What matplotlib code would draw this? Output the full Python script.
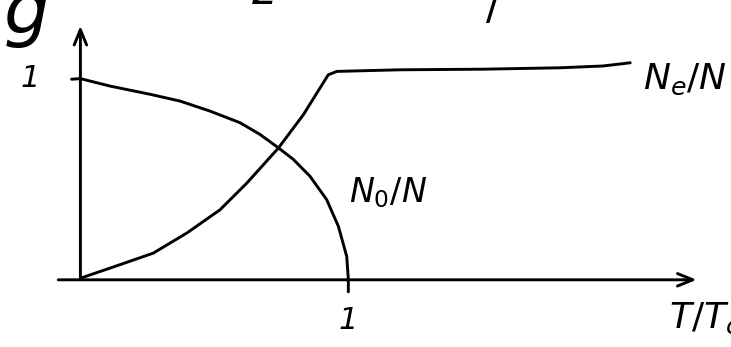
import matplotlib
matplotlib.use("Agg")
import matplotlib.pyplot as plt

# condensate fraction N0/N vs T/Tc (sketch points)
t_n0 = [-0.033, 0.0, 0.11, 0.26, 0.372, 0.484, 0.596, 0.67, 0.739, 0.795, 0.857,
        0.919, 0.963, 0.994, 1.0, 1.0]
n0 = [1.0, 1.003, 0.966, 0.925, 0.891, 0.841, 0.783, 0.725, 0.658, 0.60, 0.516,
      0.40, 0.266, 0.116, 0.0, -0.06]

# excited fraction Ne/N vs T/Tc (sketch points)
t_ne = [0.0, 0.11, 0.272, 0.397, 0.521, 0.621, 0.739, 0.832, 0.925, 0.957,
        1.193, 1.50, 1.79, 1.95, 2.052]
ne = [0.008, 0.058, 0.133, 0.233, 0.349, 0.482, 0.657, 0.823, 1.022, 1.039,
      1.047, 1.05, 1.057, 1.066, 1.082]

fig = plt.figure(figsize=(7.31, 3.47), dpi=100)
ax = fig.add_axes([0, 0, 1, 1])
ax.set_xlim(-0.30, 2.428)
ax.set_ylim(-0.335, 1.395)
ax.axis("off")

lw = 2.1
arrow = dict(arrowstyle="->,head_length=1.1,head_width=0.45", lw=lw, color="black")
# axes drawn as open arrows
ax.annotate("", xy=(2.31, 0.0), xytext=(-0.093, 0.0), arrowprops=arrow)
ax.annotate("", xy=(0.0, 1.28), xytext=(0.0, 0.0), arrowprops=arrow)

ax.plot(t_n0, n0, color="black", lw=lw, solid_capstyle="round", solid_joinstyle="round")
ax.plot(t_ne, ne, color="black", lw=lw, solid_capstyle="round", solid_joinstyle="round")

ax.text(-0.187, 1.005, "1", fontsize=22, ha="center", va="center", style="italic")
ax.text(1.0, -0.205, "1", fontsize=22, ha="center", va="center", style="italic")
ax.text(2.33, -0.19, r"$T/T_c$", fontsize=26, ha="center", va="center")
ax.text(2.257, 1.0, r"$N_e/N$", fontsize=26, ha="center", va="center")
ax.text(1.149, 0.435, r"$N_0/N$", fontsize=24, ha="center", va="center")

# heading line, mostly above the top edge
ax.text(-0.20, 1.23, "g", fontsize=52, ha="center", va="baseline", style="italic")
ax.text(0.69, 1.375, "2", fontsize=30, ha="center", va="baseline", style="italic")
ax.text(1.54, 1.30, "/", fontsize=30, ha="center", va="baseline")

fig.savefig("out.png", dpi=100)
